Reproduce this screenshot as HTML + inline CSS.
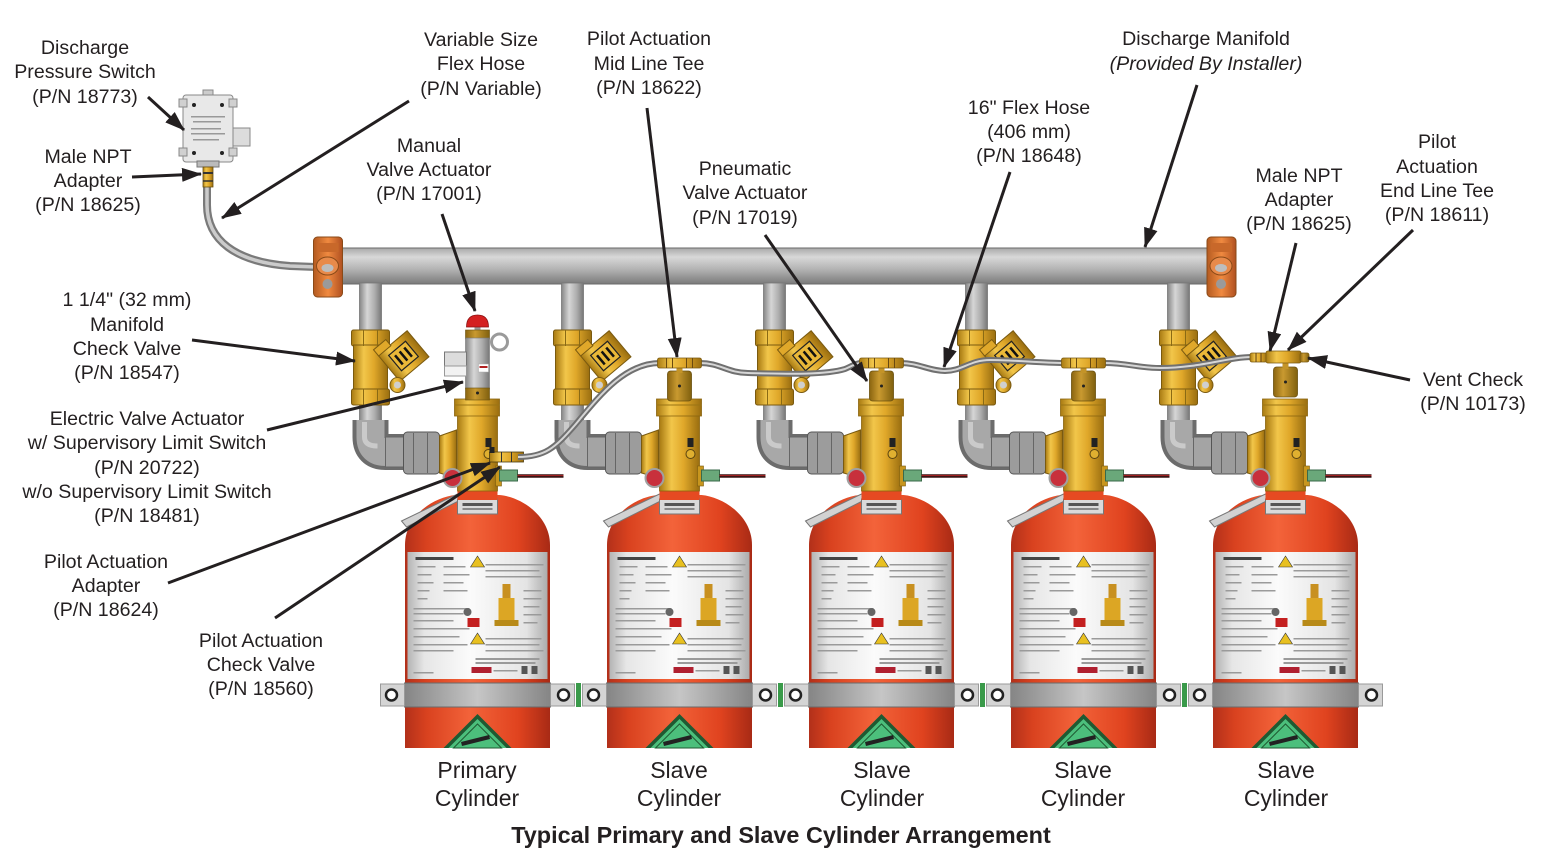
<!DOCTYPE html>
<html><head><meta charset="utf-8">
<style>html,body{margin:0;padding:0;background:#fff;}svg{display:block}</style>
</head><body>
<svg width="1551" height="851" viewBox="0 0 1551 851" xmlns="http://www.w3.org/2000/svg" font-family="'Liberation Sans', Arial, sans-serif">
<defs>
  <linearGradient id="gRed" x1="0" x2="1" y1="0" y2="0">
    <stop offset="0" stop-color="#b2301a"/><stop offset="0.15" stop-color="#d9421f"/>
    <stop offset="0.45" stop-color="#f3633a"/><stop offset="0.78" stop-color="#e0431f"/>
    <stop offset="1" stop-color="#a82a15"/>
  </linearGradient>
  <linearGradient id="gLabel" x1="0" x2="1">
    <stop offset="0" stop-color="#b4b4b4"/><stop offset="0.12" stop-color="#e6e6e6"/>
    <stop offset="0.45" stop-color="#fbfbfb"/><stop offset="0.85" stop-color="#e4e4e4"/>
    <stop offset="1" stop-color="#acacac"/>
  </linearGradient>
  <linearGradient id="gBand" x1="0" x2="1">
    <stop offset="0" stop-color="#858585"/><stop offset="0.5" stop-color="#c6c6c6"/>
    <stop offset="1" stop-color="#858585"/>
  </linearGradient>
  <linearGradient id="gPipeV" x1="0" x2="1">
    <stop offset="0" stop-color="#868686"/><stop offset="0.35" stop-color="#d6d6d6"/>
    <stop offset="0.7" stop-color="#acacac"/><stop offset="1" stop-color="#777"/>
  </linearGradient>
  <linearGradient id="gPipeH" x1="0" x2="0" y1="0" y2="1">
    <stop offset="0" stop-color="#a8a8a8"/><stop offset="0.25" stop-color="#d8d8d8"/>
    <stop offset="0.6" stop-color="#b2b2b2"/><stop offset="1" stop-color="#7a7a7a"/>
  </linearGradient>
  <linearGradient id="gBrass" x1="0" x2="1">
    <stop offset="0" stop-color="#a87a12"/><stop offset="0.3" stop-color="#f2c64a"/>
    <stop offset="0.6" stop-color="#e0a82a"/><stop offset="1" stop-color="#9a6e10"/>
  </linearGradient>
  <linearGradient id="gBrassD" x1="0" x2="1">
    <stop offset="0" stop-color="#8a6410"/><stop offset="0.4" stop-color="#c99a30"/>
    <stop offset="1" stop-color="#80600e"/>
  </linearGradient>
  <linearGradient id="gOrange" x1="0" x2="1">
    <stop offset="0" stop-color="#b45a20"/><stop offset="0.5" stop-color="#f08a40"/>
    <stop offset="1" stop-color="#b05020"/>
  </linearGradient>
  <marker id="ah" markerUnits="userSpaceOnUse" markerWidth="22" markerHeight="16" refX="19" refY="7" orient="auto">
    <path d="M0,0 L20,7 L0,14 Z" fill="#231f20"/>
  </marker>

  <g id="cyl">
    <path d="M-72.5,748 V545 C-72.5,516 -44,497 -22,495 H22 C44,497 72.5,516 72.5,545 V748 Z" fill="url(#gRed)"/>
    <polygon points="-76,521 -20,494 -15,499 -71,527" fill="#d2d2d2" stroke="#777" stroke-width="1"/>
    <rect x="-20" y="499" width="40" height="15" fill="#dadada" stroke="#777" stroke-width="1"/>
    <rect x="-15" y="503" width="30" height="3" fill="#555"/>
    <rect x="-15" y="508" width="30" height="2" fill="#888"/>
    <rect x="-70" y="552" width="140" height="127" fill="url(#gLabel)"/>
    <rect x="-62" y="557" width="38" height="3" fill="#444"/>
    <g fill="#9a9a9a">
      <rect x="-60" y="566" width="18" height="1.5"/><rect x="-34" y="566" width="22" height="1.5"/>
      <rect x="-60" y="574" width="14" height="1.5"/><rect x="-34" y="574" width="26" height="1.5"/>
      <rect x="-60" y="582" width="16" height="1.5"/><rect x="-34" y="582" width="20" height="1.5"/>
      <rect x="-60" y="590" width="12" height="1.5"/><rect x="-34" y="590" width="24" height="1.5"/>
      <rect x="-60" y="598" width="10" height="1.5"/>
      <rect x="-64" y="608" width="56" height="1.5"/><rect x="-64" y="613" width="50" height="1.5"/>
      <rect x="-64" y="620" width="40" height="1.5"/><rect x="-64" y="628" width="56" height="1.5"/>
      <rect x="-64" y="636" width="46" height="1.5"/><rect x="-64" y="644" width="54" height="1.5"/>
      <rect x="-64" y="650" width="40" height="1.5"/><rect x="-64" y="672" width="20" height="1.5"/>
      <rect x="8" y="564" width="58" height="1.5"/><rect x="8" y="570" width="54" height="1.5"/>
      <rect x="8" y="576" width="56" height="1.5"/><rect x="46" y="590" width="18" height="1.5"/>
      <rect x="46" y="598" width="18" height="1.5"/><rect x="46" y="606" width="16" height="1.5"/>
      <rect x="46" y="614" width="18" height="1.5"/><rect x="46" y="622" width="14" height="1.5"/>
      <rect x="8" y="638" width="56" height="1.5"/><rect x="8" y="644" width="54" height="1.5"/>
      <rect x="8" y="650" width="58" height="1.5"/><rect x="-2" y="658" width="64" height="2"/>
      <rect x="-2" y="662" width="60" height="2"/><rect x="16" y="670" width="24" height="1.5"/>
    </g>
    <polygon points="-7,567 0,556 7,567" fill="#e8c020" stroke="#333" stroke-width="0.6"/>
    <polygon points="-7,644 0,633 7,644" fill="#e8c020" stroke="#333" stroke-width="0.6"/>
    <rect x="25" y="584" width="8" height="14" fill="#c89020"/>
    <rect x="21" y="598" width="16" height="24" fill="#dca624"/>
    <rect x="17" y="620" width="24" height="6" fill="#b88a18"/>
    <circle cx="-10" cy="612" r="4" fill="#666"/>
    <rect x="-10" y="618" width="12" height="9" fill="#c42020"/>
    <rect x="-6" y="667" width="20" height="6" fill="#b02030"/>
    <rect x="44" y="666" width="6" height="8" fill="#555"/><rect x="54" y="666" width="6" height="8" fill="#555"/>
    <rect x="-73" y="683" width="146" height="24" fill="url(#gBand)" stroke="#6a6a6a" stroke-width="1"/>
    <rect x="-97" y="684" width="24" height="22" fill="#d4d4d4" stroke="#9a9a9a"/>
    <circle cx="-86" cy="695" r="5.5" fill="#fff" stroke="#222" stroke-width="2.5"/>
    <rect x="73" y="684" width="24" height="22" fill="#d4d4d4" stroke="#9a9a9a"/>
    <circle cx="86" cy="695" r="5.5" fill="#fff" stroke="#222" stroke-width="2.5"/>
    <polygon points="0,714 34,748 -34,748" fill="#1f5a32"/>
    <polygon points="0,719 29,748 -29,748" fill="#4cbf7c"/>
    <polygon points="0,724 24,748 -24,748" fill="none" stroke="#1f5a32" stroke-width="1"/>
    <line x1="-16" y1="744" x2="12" y2="737" stroke="#222" stroke-width="4"/>
  </g>

  <g id="drop">
    <rect x="-118" y="283" width="22" height="50" fill="url(#gPipeV)" stroke="#777" stroke-width="0.8"/>
    <rect x="-118" y="402" width="22" height="28" fill="url(#gPipeV)" stroke="#777" stroke-width="0.8"/>
    <path d="M-107,420 V437 Q-107,452 -92,452 H-40" fill="none" stroke="#6c6c6c" stroke-width="36"/>
    <path d="M-107,420 V437 Q-107,452 -92,452 H-40" fill="none" stroke="#a8a8a8" stroke-width="28"/>
    <path d="M-113,422 V437 Q-113,446 -100,446" fill="none" stroke="#cacaca" stroke-width="5"/>
    <rect x="-92" y="437" width="20" height="30" fill="#a4a4a4" stroke="#666"/>
    <rect x="-74" y="432" width="36" height="42" rx="4" fill="#9c9c9c" stroke="#555"/>
    <line x1="-64" y1="433" x2="-64" y2="473" stroke="#666"/>
    <line x1="-50" y1="433" x2="-50" y2="473" stroke="#666"/>
    <rect x="-126" y="330" width="38" height="16" rx="2" fill="url(#gBrass)" stroke="#7a5a10"/>
    <rect x="-124" y="345" width="34" height="46" fill="url(#gBrass)" stroke="#7a5a10"/>
    <rect x="-126" y="389" width="38" height="16" rx="2" fill="url(#gBrass)" stroke="#7a5a10"/>
    <line x1="-114" y1="330" x2="-114" y2="346" stroke="#8a6a14"/><line x1="-100" y1="330" x2="-100" y2="346" stroke="#8a6a14"/>
    <line x1="-114" y1="389" x2="-114" y2="405" stroke="#8a6a14"/><line x1="-100" y1="389" x2="-100" y2="405" stroke="#8a6a14"/>
    <g transform="translate(-74,356) rotate(-40)">
      <rect x="-19" y="-17" width="38" height="34" fill="url(#gBrass)" stroke="#7a5a10"/>
      <rect x="-19" y="-24" width="16" height="8" fill="#e0a82a" stroke="#7a5a10"/>
      <rect x="-11" y="-10" width="22" height="20" fill="#eab838" stroke="#222" stroke-width="1.2"/>
      <line x1="-6" y1="-6" x2="-6" y2="6" stroke="#111" stroke-width="2.5"/>
      <line x1="0" y1="-6" x2="0" y2="6" stroke="#111" stroke-width="2.5"/>
      <line x1="6" y1="-6" x2="6" y2="6" stroke="#111" stroke-width="2.5"/>
    </g>
    <circle cx="-80" cy="385" r="7.5" fill="url(#gBrass)" stroke="#7a5a10"/>
    <circle cx="-80" cy="385" r="3.5" fill="#cfcfcf"/>
  </g>

  <g id="vbody">
    <rect x="-20" y="486" width="40" height="14" fill="#e64a22"/>
    <rect x="-20" y="415" width="40" height="76" fill="url(#gBrass)" stroke="#8a6410" stroke-width="0.8"/>
    <rect x="-23" y="399" width="45" height="17" fill="url(#gBrass)" stroke="#8a6410" stroke-width="0.8"/>
    <line x1="-23" y1="405" x2="22" y2="405" stroke="#9a7414"/>
    <rect x="8" y="438" width="6" height="9" fill="#222"/>
    <circle cx="11" cy="454" r="4.5" fill="#e0b030" stroke="#5a4410"/>
    <polygon points="-38,436 -21,430 -21,478 -38,473" fill="url(#gBrass)" stroke="#7a5a10"/>
    <circle cx="-25" cy="478" r="9" fill="#c8303c" stroke="#a0a0a0" stroke-width="2"/>
    <rect x="18" y="466" width="6" height="20" fill="#c8961e" stroke="#7a5a10" stroke-width="0.6"/>
    <rect x="22" y="470" width="18" height="11" fill="#6aa87a" stroke="#3a6a4a"/>
    <line x1="40" y1="476" x2="86" y2="476" stroke="#3a1414" stroke-width="3.5"/>
    <line x1="40" y1="475.5" x2="86" y2="475.5" stroke="#a02020" stroke-width="1"/>
  </g>
  <g id="scap">
    <rect x="-12" y="371" width="24" height="30" rx="3" fill="url(#gBrassD)" stroke="#6a5010" stroke-width="0.8"/>
    <circle cx="0" cy="386" r="1.5" fill="#222"/>
    <rect x="-3" y="366" width="6" height="7" fill="#c49428"/>
  </g>
  <g id="tee">
    <rect x="-22" y="358" width="44" height="10" rx="2" fill="url(#gBrass)" stroke="#7a5a10" stroke-width="0.8"/>
    <line x1="-13" y1="358" x2="-13" y2="368" stroke="#6a4a10"/>
    <line x1="-7" y1="358" x2="-7" y2="368" stroke="#6a4a10"/>
    <line x1="7" y1="358" x2="7" y2="368" stroke="#6a4a10"/>
    <line x1="13" y1="358" x2="13" y2="368" stroke="#6a4a10"/>
  </g>
  <g id="cap">
    <rect x="-14" y="237" width="29" height="60" rx="4" fill="url(#gOrange)" stroke="#8a4a18"/>
    <rect x="-10" y="243" width="21" height="9" fill="#c8682a"/>
    <ellipse cx="0" cy="266" rx="11" ry="9" fill="#e88a4a" stroke="#8a4a18"/>
    <ellipse cx="0" cy="268" rx="6" ry="4" fill="#bdbdbd"/>
    <circle cx="0" cy="284" r="5" fill="#9a9a9a"/>
  </g>
</defs>

<path d="M207,185 V205 C207,240 235,262 290,266 L316,267" fill="none" stroke="#7a7a7a" stroke-width="8"/>
<path d="M207,185 V205 C207,240 235,262 290,266 L316,267" fill="none" stroke="#cbcbcb" stroke-width="3.5"/>

<rect x="203" y="90" width="10" height="7" fill="#ccc" stroke="#888"/>
<rect x="231" y="128" width="19" height="18" fill="#dcdcdc" stroke="#888"/>
<rect x="183" y="95" width="50" height="67" rx="3" fill="#e8e8e8" stroke="#888"/>
<rect x="179" y="99" width="8" height="8" fill="#d0d0d0" stroke="#888"/>
<rect x="229" y="99" width="8" height="8" fill="#d0d0d0" stroke="#888"/>
<rect x="179" y="148" width="8" height="8" fill="#d0d0d0" stroke="#888"/>
<rect x="229" y="148" width="8" height="8" fill="#d0d0d0" stroke="#888"/>
<circle cx="194" cy="105" r="2" fill="#222"/><circle cx="222" cy="105" r="2" fill="#222"/>
<circle cx="194" cy="153" r="2" fill="#222"/><circle cx="222" cy="153" r="2" fill="#222"/>
<g fill="#999"><rect x="191" y="116" width="34" height="1.5"/><rect x="193" y="121" width="28" height="1.5"/><rect x="191" y="128" width="30" height="1.5"/><rect x="191" y="133" width="34" height="1.5"/><rect x="193" y="139" width="26" height="1.5"/></g>
<rect x="197" y="161" width="22" height="6" fill="#bbb" stroke="#777"/>
<rect x="203" y="167" width="10" height="20" fill="url(#gBrass)" stroke="#6a5010" stroke-width="0.8"/>
<line x1="203" y1="173" x2="213" y2="173" stroke="#333" stroke-width="2"/>
<line x1="203" y1="181" x2="213" y2="181" stroke="#333" stroke-width="1.5"/>

<rect x="330" y="248" width="885" height="36" fill="url(#gPipeH)" stroke="#6a6a6a" stroke-width="1"/>
<use href="#cap" x="327.5"/>
<use href="#cap" x="1221"/>

<use href="#drop" x="477.5"/>
<use href="#drop" x="679.5"/>
<use href="#drop" x="881.5"/>
<use href="#drop" x="1083.5"/>
<use href="#drop" x="1285.5"/>

<use href="#cyl" x="477.5"/>
<use href="#cyl" x="679.5"/>
<use href="#cyl" x="881.5"/>
<use href="#cyl" x="1083.5"/>
<use href="#cyl" x="1285.5"/>
<g fill="#3a9a4a">
  <rect x="576" y="683" width="5" height="24"/><rect x="778" y="683" width="5" height="24"/>
  <rect x="980" y="683" width="5" height="24"/><rect x="1182" y="683" width="5" height="24"/>
</g>

<use href="#vbody" x="477.5"/>
<use href="#vbody" x="679.5"/>
<use href="#vbody" x="881.5"/>
<use href="#vbody" x="1083.5"/>
<use href="#vbody" x="1285.5"/>
<use href="#scap" x="679.5"/>
<use href="#scap" x="881.5"/>
<use href="#scap" x="1083.5"/>
<use href="#scap" x="1285.5" y="-4"/>

<g transform="translate(477.5,0)">
  <rect x="-3" y="324" width="6" height="8" fill="#999"/>
  <path d="M-11,327 Q-11,315 0,315 Q11,315 11,327 Z" fill="#d42020" stroke="#8a1010" stroke-width="0.8"/>
  <rect x="-12" y="330" width="24" height="9" fill="url(#gBrassD)" stroke="#6a5010" stroke-width="0.6"/>
  <rect x="-12" y="338" width="24" height="51" fill="url(#gPipeV)" stroke="#777" stroke-width="0.6"/>
  <rect x="1" y="364" width="10" height="8" fill="#fff" stroke="#aaa" stroke-width="0.5"/>
  <rect x="2" y="366" width="8" height="2" fill="#b02020"/>
  <rect x="-12" y="388" width="24" height="12" fill="url(#gBrassD)" stroke="#6a5010" stroke-width="0.6"/>
  <circle cx="0" cy="393" r="1.5" fill="#222"/>
  <rect x="-33" y="352" width="22" height="24" fill="#dcdcdc" stroke="#777"/>
  <rect x="-33" y="366" width="22" height="10" fill="#f2f2f2" stroke="#999"/>
  <circle cx="22" cy="342" r="8" fill="none" stroke="#9a9a9a" stroke-width="3"/>
  <rect x="12" y="452" width="34" height="10" fill="url(#gBrass)" stroke="#4a3a10" stroke-width="0.8"/>
  <rect x="12" y="447" width="5" height="6" fill="#222"/>
  <line x1="24" y1="452" x2="24" y2="462" stroke="#333"/><line x1="34" y1="452" x2="34" y2="462" stroke="#333"/>
</g>

<g fill="none">
  <path d="M518,457 C545,457 555,448 575,425 C600,395 625,363 660,363 M700,363 C720,363 728,373 748,373 C790,374 825,375 845,369 C852,366 856,363 862,363 M901,363 C918,363 930,371 945,371 C962,371 970,360 990,360 C1015,360 1040,363 1064,363 M1104,363 C1128,363 1138,368 1160,368 C1200,368 1228,357 1252,357" stroke="#707070" stroke-width="6"/>
  <path d="M518,457 C545,457 555,448 575,425 C600,395 625,363 660,363 M700,363 C720,363 728,373 748,373 C790,374 825,375 845,369 C852,366 856,363 862,363 M901,363 C918,363 930,371 945,371 C962,371 970,360 990,360 C1015,360 1040,363 1064,363 M1104,363 C1128,363 1138,368 1160,368 C1200,368 1228,357 1252,357" stroke="#d6d6d6" stroke-width="2"/>
</g>
<use href="#tee" x="679.5"/>
<use href="#tee" x="881.5"/>
<use href="#tee" x="1083.5"/>
<rect x="1282.5" y="361" width="6" height="8" fill="#c49428"/>
<rect x="1250" y="353" width="17" height="9" rx="2" fill="url(#gBrass)" stroke="#7a5a10" stroke-width="0.8"/>
<line x1="1256" y1="353" x2="1256" y2="362" stroke="#5a3a10"/><line x1="1261" y1="353" x2="1261" y2="362" stroke="#5a3a10"/>
<rect x="1266" y="351" width="35" height="12" rx="2" fill="url(#gBrass)" stroke="#7a5a10" stroke-width="0.8"/>
<rect x="1300" y="353" width="9" height="9" rx="2" fill="url(#gBrassD)" stroke="#7a5a10" stroke-width="0.8"/>

<g stroke="#231f20" stroke-width="3" marker-end="url(#ah)" fill="none">
  <line x1="148" y1="97" x2="184" y2="130"/>
  <line x1="132" y1="177" x2="201" y2="174"/>
  <line x1="409" y1="101" x2="222" y2="218"/>
  <line x1="442" y1="214" x2="475" y2="311"/>
  <line x1="647" y1="108" x2="677" y2="357"/>
  <line x1="765" y1="235" x2="867" y2="381"/>
  <line x1="1010" y1="172" x2="944" y2="367"/>
  <line x1="1197" y1="85" x2="1145" y2="247"/>
  <line x1="1296" y1="243" x2="1270" y2="351"/>
  <line x1="1413" y1="230" x2="1288" y2="350"/>
  <line x1="1410" y1="380" x2="1308" y2="358"/>
  <line x1="192" y1="340" x2="355" y2="361"/>
  <line x1="267" y1="430" x2="463" y2="382"/>
  <line x1="168" y1="583" x2="490" y2="463"/>
  <line x1="275" y1="618" x2="500" y2="467"/>
</g>

<g font-size="19.6" fill="#231f20" text-anchor="middle">
  <text x="85" y="54">Discharge</text>
  <text x="85" y="78">Pressure Switch</text>
  <text x="85" y="103">(P/N 18773)</text>
  <text x="88" y="163">Male NPT</text>
  <text x="88" y="187">Adapter</text>
  <text x="88" y="211">(P/N 18625)</text>
  <text x="481" y="46">Variable Size</text>
  <text x="481" y="70">Flex Hose</text>
  <text x="481" y="95">(P/N Variable)</text>
  <text x="649" y="45">Pilot Actuation</text>
  <text x="649" y="70">Mid Line Tee</text>
  <text x="649" y="94">(P/N 18622)</text>
  <text x="1206" y="45">Discharge Manifold</text>
  <text x="1206" y="70" font-style="italic">(Provided By Installer)</text>
  <text x="1029" y="114">16" Flex Hose</text>
  <text x="1029" y="138">(406 mm)</text>
  <text x="1029" y="162">(P/N 18648)</text>
  <text x="429" y="152">Manual</text>
  <text x="429" y="176">Valve Actuator</text>
  <text x="429" y="200">(P/N 17001)</text>
  <text x="745" y="175">Pneumatic</text>
  <text x="745" y="199">Valve Actuator</text>
  <text x="745" y="224">(P/N 17019)</text>
  <text x="1299" y="182">Male NPT</text>
  <text x="1299" y="206">Adapter</text>
  <text x="1299" y="230">(P/N 18625)</text>
  <text x="1437" y="148">Pilot</text>
  <text x="1437" y="173">Actuation</text>
  <text x="1437" y="197">End Line Tee</text>
  <text x="1437" y="221">(P/N 18611)</text>
  <text x="127" y="306">1 1/4" (32 mm)</text>
  <text x="127" y="331">Manifold</text>
  <text x="127" y="355">Check Valve</text>
  <text x="127" y="379">(P/N 18547)</text>
  <text x="147" y="425">Electric Valve Actuator</text>
  <text x="147" y="449">w/ Supervisory Limit Switch</text>
  <text x="147" y="474">(P/N 20722)</text>
  <text x="147" y="498">w/o Supervisory Limit Switch</text>
  <text x="147" y="522">(P/N 18481)</text>
  <text x="106" y="568">Pilot Actuation</text>
  <text x="106" y="592">Adapter</text>
  <text x="106" y="616">(P/N 18624)</text>
  <text x="261" y="647">Pilot Actuation</text>
  <text x="261" y="671">Check Valve</text>
  <text x="261" y="695">(P/N 18560)</text>
  <text x="1473" y="386">Vent Check</text>
  <text x="1473" y="410">(P/N 10173)</text>
</g>
<g font-size="23" fill="#231f20" text-anchor="middle">
  <text x="477" y="778">Primary</text><text x="477" y="806">Cylinder</text>
  <text x="679" y="778">Slave</text><text x="679" y="806">Cylinder</text>
  <text x="882" y="778">Slave</text><text x="882" y="806">Cylinder</text>
  <text x="1083" y="778">Slave</text><text x="1083" y="806">Cylinder</text>
  <text x="1286" y="778">Slave</text><text x="1286" y="806">Cylinder</text>
</g>
<text x="781" y="843" font-size="23.4" font-weight="bold" fill="#231f20" text-anchor="middle">Typical Primary and Slave Cylinder Arrangement</text>
</svg>
</body></html>
